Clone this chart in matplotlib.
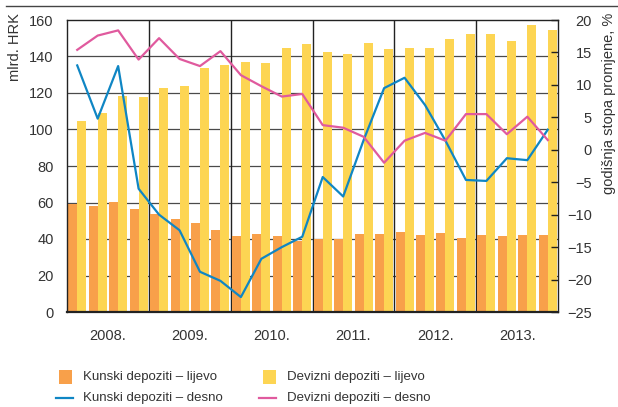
import matplotlib
matplotlib.use("Agg")
import matplotlib.pyplot as plt
from matplotlib import font_manager
from matplotlib.patches import Rectangle
from matplotlib.lines import Line2D
import numpy as np

years = ["2008.", "2009.", "2010.", "2011.", "2012.", "2013."]
kunski_bars = [59.3, 58.1, 60.3, 56.4, 53.9, 51.0, 48.8, 44.9, 41.6, 42.9, 41.6, 39.1,
               39.8, 39.8, 42.9, 42.9, 43.8, 42.2, 43.5, 40.5, 42.2, 41.6, 42.2, 42.2]
devizni_bars = [104.7, 109.0, 118.4, 117.8, 122.7, 123.8, 133.7, 135.3, 137.0, 136.6, 144.7, 147.0,
                142.5, 141.4, 147.4, 144.1, 144.7, 144.7, 149.6, 152.3, 152.3, 148.5, 157.3, 154.5]
kunski_rate = [13.0, 4.8, 12.9, -6.0, -10.0, -12.4, -18.8, -20.2, -22.7, -16.8, -15.0, -13.4,
               -4.2, -7.2, 1.5, 9.5, 11.1, 6.9, 1.4, -4.65, -4.8, -1.3, -1.6, 3.1]
devizni_rate = [15.4, 17.6, 18.4, 13.9, 17.2, 14.0, 12.9, 15.2, 11.5, 9.8, 8.2, 8.6,
                3.8, 3.4, 2.0, -2.0, 1.4, 2.6, 1.4, 5.5, 5.5, 2.4, 5.1, 1.5]
left_ticks = [0, 20, 40, 60, 80, 100, 120, 140, 160]
right_ticks = [-25, -20, -15, -10, -5, 0, 5, 10, 15, 20]
legend_labels = ["Kunski depoziti – lijevo", "Kunski depoziti – desno",
                 "Devizni depoziti – lijevo", "Devizni depoziti – desno"]

names = {f.name for f in font_manager.fontManager.ttflist}
fam = "Liberation Sans Narrow" if "Liberation Sans Narrow" in names else "Liberation Sans"
narrow = fam == "Liberation Sans Narrow"
plt.rcParams['font.family'] = [fam, 'DejaVu Sans']
TS = 11 if narrow else 10.5
LS = 10.5 if narrow else 9.5
TXT = "#333333"
ORANGE = "#F8A04A"
YELLOW = "#FDD553"
BLUE = "#0F86C4"
PINK = "#E05A9E"
GRID = "#4a4a4a"

W, H = 618, 407
fig = plt.figure(figsize=(W / 100, H / 100), dpi=100)
ax = fig.add_axes([67 / W, 1 - 312 / H, (558 - 67) / W, (312 - 20) / H])

n = len(kunski_bars)
x = np.arange(n)
bw = 0.44
ax.bar(x - bw / 2, kunski_bars, width=bw, color=ORANGE, zorder=2, linewidth=0)
ax.bar(x + bw / 2, devizni_bars, width=bw, color=YELLOW, zorder=2, linewidth=0)
ax.set_xlim(-0.5, n - 0.5)
ax.set_ylim(0, 160)
ax.set_yticks(left_ticks)
for t in left_ticks[1:-1]:
    ax.axhline(t, color=GRID, lw=0.9, zorder=1)
for k in range(1, len(years)):
    ax.axvline(4 * k - 0.5, color="#222222", lw=1.0, zorder=1)
ax.set_xticks([4 * k + 1.5 for k in range(len(years))])
ax.set_xticklabels(years)
ax.tick_params(axis='x', length=0, pad=12, labelsize=TS, colors=TXT)
ax.tick_params(axis='y', length=0, pad=9.5, labelsize=TS, colors=TXT)
for s in ax.spines.values():
    s.set_color("#222222")
    s.set_linewidth(1.0)
ax.spines['bottom'].set_linewidth(1.6)

ax2 = ax.twinx()
ax2.plot(x, kunski_rate, color=BLUE, lw=1.6, zorder=3)
ax2.plot(x, devizni_rate, color=PINK, lw=1.6, zorder=3)
ax2.set_ylim(-25, 20)
ax2.set_yticks(right_ticks)
ax2.tick_params(axis='y', direction='in', length=5, width=1.0, color="#222222",
                pad=24.5, labelsize=TS, colors=TXT)
for lab in ax2.get_yticklabels():
    lab.set_horizontalalignment('right')
for s in ax2.spines.values():
    s.set_visible(False)

fig.text(8 / W, 1 - 13 / H, "mlrd. HRK", rotation=90, ha='left', va='top',
         fontsize=TS, color=TXT)
fig.text(616 / W, 1 - 13 / H, "godišnja stopa promjene, %", rotation=90, ha='right',
         va='top', fontsize=TS, color=TXT)

fig.add_artist(Line2D([6 / W, 1.0], [1 - 6 / H, 1 - 6 / H], transform=fig.transFigure,
                      color="#444444", lw=1.0))

def fy(py):
    return 1 - py / H

fig.add_artist(Rectangle((59 / W, fy(384)), 13 / W, 14 / H, transform=fig.transFigure,
                         color=ORANGE, lw=0))
fig.add_artist(Rectangle((263 / W, fy(384)), 13 / W, 14 / H, transform=fig.transFigure,
                         color=YELLOW, lw=0))
fig.add_artist(Line2D([56 / W, 73 / W], [fy(398), fy(398)], transform=fig.transFigure,
                      color=BLUE, lw=1.6))
fig.add_artist(Line2D([259 / W, 276 / W], [fy(398), fy(398)], transform=fig.transFigure,
                      color=PINK, lw=1.6))
fig.text(83 / W, fy(377), legend_labels[0], va='center', ha='left', fontsize=LS, color=TXT)
fig.text(83 / W, fy(398), legend_labels[1], va='center', ha='left', fontsize=LS, color=TXT)
fig.text(287 / W, fy(377), legend_labels[2], va='center', ha='left', fontsize=LS, color=TXT)
fig.text(287 / W, fy(398), legend_labels[3], va='center', ha='left', fontsize=LS, color=TXT)

fig.savefig("out.png", dpi=100)
